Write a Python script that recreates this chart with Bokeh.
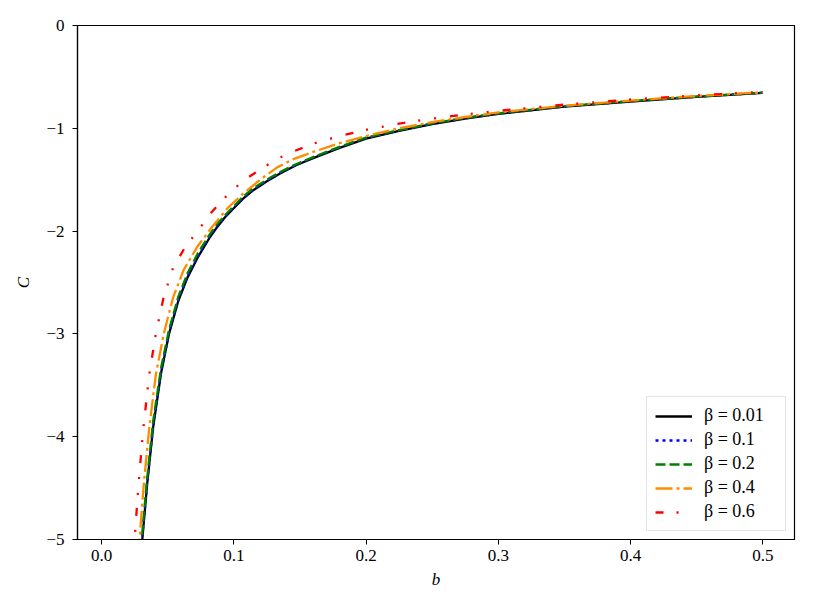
from bokeh.plotting import figure
from bokeh.models import Range1d, FixedTicker, PrintfTickFormatter, CustomJSTickFormatter, Legend
from bokeh.embed import file_html
from bokeh.resources import INLINE

# ---- data ----
b_black = [0.028, 0.0308, 0.0345, 0.039, 0.045, 0.051, 0.058, 0.065, 0.073, 0.0819, 0.0863,
           0.093, 0.1005, 0.107, 0.115, 0.125, 0.135, 0.147, 0.16, 0.18, 0.2, 0.225, 0.25,
           0.275, 0.3, 0.35, 0.4, 0.45, 0.5]
C_001 = [-5.6, -5.0, -4.46, -3.91, -3.38, -3.00, -2.68, -2.45, -2.25, -2.06, -1.98,
         -1.87, -1.77, -1.685, -1.60, -1.515, -1.44, -1.36, -1.29, -1.19, -1.10, -1.025, -0.96,
         -0.905, -0.86, -0.79, -0.74, -0.695, -0.655]
C_01 = [-5.58, -4.98, -4.44, -3.90, -3.37, -2.99, -2.67, -2.44, -2.24, -2.05, -1.97,
        -1.865, -1.765, -1.68, -1.595, -1.51, -1.435, -1.356, -1.285, -1.185, -1.095, -1.021, -0.957,
        -0.902, -0.858, -0.788, -0.738, -0.693, -0.654]
C_02 = [-5.5, -4.93, -4.40, -3.85, -3.33, -2.96, -2.64, -2.41, -2.21, -2.03, -1.95,
        -1.85, -1.75, -1.665, -1.58, -1.50, -1.425, -1.35, -1.28, -1.18, -1.09, -1.017, -0.952,
        -0.898, -0.854, -0.785, -0.735, -0.691, -0.653]

b_orange = [0.026, 0.0287, 0.032, 0.036, 0.041, 0.047, 0.054, 0.062, 0.072, 0.0823, 0.095,
            0.1076, 0.12, 0.1328, 0.145, 0.16, 0.18, 0.2, 0.225, 0.25, 0.275, 0.3, 0.35, 0.4,
            0.45, 0.5]
C_04 = [-5.7, -5.0, -4.45, -3.92, -3.40, -3.0, -2.65, -2.38, -2.16, -1.98, -1.78,
        -1.63, -1.50, -1.38, -1.30, -1.23, -1.145, -1.075, -1.00, -0.94, -0.89, -0.845, -0.78,
        -0.73, -0.685, -0.65]

b_red = [0.022, 0.025, 0.028, 0.0315, 0.036, 0.041, 0.047, 0.054, 0.063, 0.0749, 0.083,
         0.0913, 0.100, 0.110, 0.1227, 0.134, 0.146, 0.16, 0.18, 0.2, 0.225, 0.25, 0.275,
         0.3, 0.35, 0.4, 0.45, 0.5]
C_06 = [-5.8, -5.0, -4.45, -3.93, -3.40, -3.0, -2.64, -2.36, -2.16, -1.96, -1.82,
        -1.70, -1.59, -1.485, -1.378, -1.29, -1.22, -1.15, -1.075, -1.015, -0.955, -0.905, -0.865,
        -0.83, -0.77, -0.72, -0.68, -0.645]

labels = ["β = 0.01", "β = 0.1", "β = 0.2", "β = 0.4", "β = 0.6"]
x_ticks = [0.0, 0.1, 0.2, 0.3, 0.4, 0.5]
y_ticks = [-5, -4, -3, -2, -1, 0]

FONT = "Liberation Serif"

p = figure(width=806, height=602, output_backend="svg", toolbar_location=None,
           x_range=Range1d(-0.0182, 0.524), y_range=Range1d(-5, 0),
           min_border_left=77, min_border_right=12, min_border_top=25, min_border_bottom=63)

p.xgrid.visible = False
p.ygrid.visible = False
p.outline_line_color = "black"
p.outline_line_width = 1.2
p.outline_line_alpha = 1.0

for ax in (p.xaxis[0], p.yaxis[0]):
    ax.major_tick_in = 0
    ax.major_tick_out = 5
    ax.minor_tick_line_color = None
    ax.axis_line_color = "black"
    ax.axis_line_width = 1.2
    ax.major_tick_line_color = "black"
    ax.major_label_text_font = FONT
    ax.major_label_text_font_size = "17px"
    ax.major_label_text_color = "black"
    ax.axis_label_text_font = FONT
    ax.axis_label_text_font_size = "17px"
    ax.axis_label_text_font_style = "italic"
    ax.axis_label_text_color = "black"

p.xaxis.ticker = FixedTicker(ticks=x_ticks)
p.xaxis.formatter = PrintfTickFormatter(format="%.1f")
p.xaxis.axis_label = "b"
p.xaxis.major_label_standoff = 5
p.xaxis.axis_label_standoff = 6

p.yaxis.ticker = FixedTicker(ticks=y_ticks)
p.yaxis.formatter = CustomJSTickFormatter(code="""
    return tick == 0 ? "0" : "\u2212" + Math.abs(tick).toFixed(0);
""")
p.yaxis.axis_label = "C"
p.yaxis.major_label_standoff = 8
p.yaxis.axis_label_standoff = 10

W = 2.3
r1 = p.line(b_black, C_001, line_color="black", line_width=W)
r2 = p.line(b_black, C_01, line_color="blue", line_width=W, line_dash="3 4")
r3 = p.line(b_black, C_02, line_color="green", line_width=W, line_dash="10 4")
r4 = p.line(b_orange, C_04, line_color="darkorange", line_width=W, line_dash="17 4 3 4")
r5 = p.line(b_red, C_06, line_color="red", line_width=W, line_dash="8 13 2 14 2 14")

legend = Legend(items=[(labels[0], [r1]), (labels[1], [r2]), (labels[2], [r3]),
                       (labels[3], [r4]), (labels[4], [r5])],
                location="bottom_right")
legend.margin = 8
legend.padding = 8
legend.spacing = 3
legend.glyph_width = 37
legend.glyph_height = 20
legend.label_height = 20
legend.label_width = 73
legend.label_standoff = 12
legend.label_text_font = FONT
legend.label_text_font_size = "18px"
legend.label_text_color = "black"
legend.border_line_color = "#cccccc"
legend.border_line_width = 1.5
legend.background_fill_alpha = 0.8
p.add_layout(legend)

open("out.html", "w").write(file_html(p, INLINE))
